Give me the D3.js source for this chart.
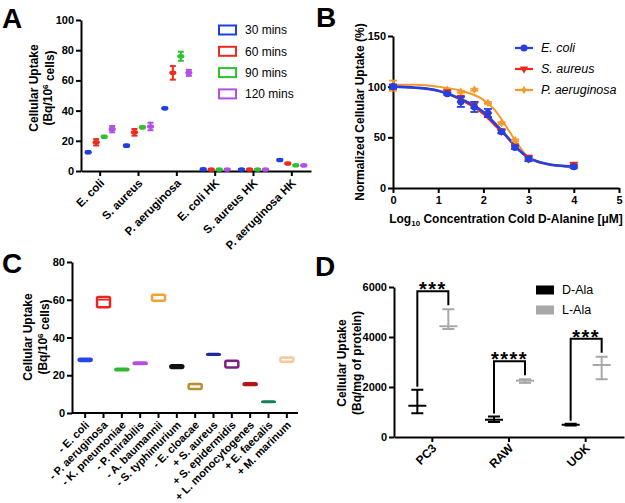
<!DOCTYPE html>
<meta charset="utf-8">
<style>
body { margin: 0; background: #fff; }
</style>
<body>
<svg id="fig"></svg>
<script src="https://d3js.org/d3.v7.min.js"></script>
<script>

var FONT = "Arial, 'Liberation Sans', Helvetica, sans-serif";

// ---- panel A : uptake over time
var uptakeStrains = ["E. coli", "S. aureus", "P. aeruginosa", "E. coli HK", "S. aureus HK", "P. aeruginosa HK"];
var uptakeTimes = ["30 mins", "60 mins", "90 mins", "120 mins"];
var uptake30 = [12.4, 16.8, 41.5, 1.2, 1.0, 7.3];
var uptake60 = [19, 25.6, 65, 1.0, 1.0, 5.0];
var uptake90 = [22.7, 28.9, 76, 1.0, 1.0, 3.8];
var uptake120 = [27.7, 29.5, 65, 1.0, 1.0, 3.7];
var sd30 = [0.6, 0.6, 0.5, 0.3, 0.3, 0.4];
var sd60 = [2.1, 2.2, 4.5, 0.3, 0.3, 0.4];
var sd90 = [0.6, 0.6, 3, 0.3, 0.3, 0.3];
var sd120 = [2.1, 2.5, 2, 0.3, 0.3, 0.3];
var uptakeTicks = [0, 20, 40, 60, 80, 100];

// ---- panel B : competition with cold D-alanine
var logConc = [0, 1.2, 1.5, 1.8, 2.1, 2.4, 2.7, 3, 4];
var ecoliNorm = [100, 93, 85, 80, 74, 55.5, 40, 28.5, 21];
var ecoliErr = [2, 1, 5, 5, 4, 1.5, 1.5, 2, 1.5];
var saureusNorm = [100, 95, 88, 82, 72, 56, 41, 30, 23];
var saureusErr = [2, 1, 3, 3, 2, 2, 2, 2, 2];
var paeruNorm = [101, 97, 95, 97, 84, 64, 47, 28, 22];
var paeruErr = [5, 1, 1, 1, 1, 1, 1, 1, 1];
var fitX = [0, 0.5, 1, 1.5, 2, 2.25, 2.5, 2.75, 3, 3.25, 3.5, 3.75, 4];
var ecoliFit = [100, 99, 96, 88, 75, 64, 52, 39, 30, 25.5, 23, 21.8, 21];
var saureusFit = [100, 99, 96, 87, 73, 62, 51, 39, 30, 25.5, 23, 21.8, 21];
var paeruFit = [102, 101.8, 100, 96, 87, 77, 61, 44, 30, 25, 22.5, 21.8, 21.5];
var compSeries = ["E. coli", "S. aureus", "P. aeruginosa"];

// ---- panel C : strain panel
var strains = ["- E. coli", "- P. aeruginosa", "- K. pneumoniae", "- P. mirabilis", "- A. baumannii",
  "- S. typhimurium", "- E. cloacae", "+ S. aureus", "+ S. epidermidis", "+ L. monocytogenes",
  "+ E. faecalis", "+ M. marinum"];
var strainMin = [27.6, 56, 22.6, 25.9, 59.5, 23.9, 12.7, 30.8, 24.1, 14.8, 5.8, 27.1];
var strainMax = [28.7, 61.5, 23.5, 26.8, 62.7, 25.3, 15.4, 31.3, 27.7, 15.7, 6.1, 29.4];
var strainMean = [28.2, 60, 23, 26.4, 62.5, 24.6, 15.2, 31, 27.4, 15.2, 6, 29.2];
var strainTicks = [0, 20, 40, 60, 80];

// ---- panel D : mammalian cells
var cellLines = ["PC3", "RAW", "UOK"];
var isomers = ["D-Ala", "L-Ala"];
var dAlaMean = [1250, 690, 490];
var dAlaLow = [950, 600, 460];
var dAlaHigh = [1890, 820, 530];
var lAlaMean = [4430, 2255, 2880];
var lAlaLow = [4320, 2165, 2310];
var lAlaHigh = [5110, 2310, 3210];
var sigLabels = ["***", "****", "***"];
var cellTicks = [0, 2000, 4000, 6000];

// colours
var timeColors = ["#1f3fe6", "#ec2a1e", "#2ec22e", "#b44fe6"];
var compColors = ["#2440e4", "#e8291c", "#f59a28"];
var strainColors = ["#2448e6", "#e8261c", "#2eb82e", "#b44ee0", "#f5a030", "#111111", "#b8902e",
  "#1c2a9c", "#80207e", "#b81414", "#15805a", "#f8c89a"];
var isomerColors = ["#000000", "#a8a8a8"];

var width = 625, height = 503;
var svg = d3.select("#fig").attr("width", width).attr("height", height)
    .style("font-family", FONT);
svg.append("rect").attr("width", width).attr("height", height).attr("fill", "#fff");

function styleAxis(g, fs) {
  g.attr("font-family", FONT);
  g.select(".domain").attr("stroke-width", 2);
  g.selectAll(".tick line").attr("stroke-width", 2);
  g.selectAll(".tick text").attr("font-weight", "bold").attr("font-size", fs || 11).attr("fill", "#000");
}

function panelLetter(t, x, y) {
  svg.append("text").attr("x", x).attr("y", y).attr("font-size", 28).attr("font-weight", "bold").text(t);
}

function rotatedLabels(g, scale, labels, y0, fs) {
  g.selectAll("text.xl").data(labels).enter().append("text")
      .attr("class", "xl")
      .attr("transform", function(d) { return "translate(" + (scale(d) + scale.bandwidth() / 2 + 2) + "," + y0 + ")rotate(-45)"; })
      .attr("text-anchor", "end")
      .attr("dy", "0.35em")
      .attr("font-size", fs)
      .attr("font-weight", "bold")
      .text(function(d) { return d; });
}

function yTitle(x1, x2, y) {
  svg.append("text")
      .attr("transform", "translate(" + x1 + "," + y + ")rotate(-90)")
      .attr("text-anchor", "middle").attr("dy", "0.35em")
      .attr("font-size", 12).attr("font-weight", "bold")
      .text("Cellular Uptake");
  var t = svg.append("text")
      .attr("transform", "translate(" + x2 + "," + y + ")rotate(-90)")
      .attr("text-anchor", "middle").attr("dy", "0.35em")
      .attr("font-size", 12).attr("font-weight", "bold");
  t.append("tspan").text("(Bq/10");
  t.append("tspan").attr("font-size", 8).attr("dy", "-0.5em").text("6");
  t.append("tspan").attr("dy", "0.5em").text(" cells)");
}

// ================= PANEL A =================
panelLetter("A", 2, 28);
var xA = d3.scaleBand().domain(uptakeStrains).range([81, 311]);
var yA = d3.scaleLinear().domain([0, 100]).range([171, 20]);
var offA = d3.scalePoint().domain(uptakeTimes).range([-12, 12]);
var gA = svg.append("g");

gA.append("g").attr("transform", "translate(81,0)")
    .call(d3.axisLeft(yA).tickValues(uptakeTicks).tickSize(5).tickSizeOuter(0).tickPadding(2))
    .call(styleAxis);
gA.append("g").attr("transform", "translate(0,171)")
    .call(d3.axisBottom(xA).tickSize(5).tickSizeOuter(0).tickFormat(""))
    .call(styleAxis);
rotatedLabels(gA, xA, uptakeStrains, 181, 11.5);
yTitle(34, 48, 88);

var uptakeMeans = [uptake30, uptake60, uptake90, uptake120];
var uptakeSds = [sd30, sd60, sd90, sd120];
uptakeTimes.forEach(function(tm, i) {
  var c = timeColors[i];
  var pts = uptakeStrains.map(function(s, j) {
    return { x: xA(s) + xA.bandwidth() / 2 + offA(tm), m: uptakeMeans[i][j], sd: uptakeSds[i][j] };
  });
  var g = gA.append("g").attr("stroke", c).attr("stroke-width", 2);
  g.selectAll("line.v").data(pts).enter().append("line")
      .attr("x1", function(d) { return d.x; }).attr("x2", function(d) { return d.x; })
      .attr("y1", function(d) { return yA(d.m - d.sd); }).attr("y2", function(d) { return yA(d.m + d.sd); });
  [-1, 1].forEach(function(sg) {
    g.selectAll("line.c" + sg).data(pts).enter().append("line")
        .attr("x1", function(d) { return d.x - 3; }).attr("x2", function(d) { return d.x + 3; })
        .attr("y1", function(d) { return yA(d.m + sg * d.sd); }).attr("y2", function(d) { return yA(d.m + sg * d.sd); });
  });
  gA.selectAll("ellipse.t" + i).data(pts).enter().append("ellipse")
      .attr("cx", function(d) { return d.x; }).attr("cy", function(d) { return yA(d.m); })
      .attr("rx", 3.6).attr("ry", 2.3).attr("fill", c);
});

var legA = gA.selectAll("g.leg").data(uptakeTimes).enter().append("g")
    .attr("transform", function(d, i) { return "translate(219," + (30 + i * 21.3) + ")"; });
legA.append("rect").attr("x", 0).attr("y", -4.5).attr("width", 17).attr("height", 9)
    .attr("fill", "none").attr("stroke-width", 2)
    .attr("stroke", function(d, i) { return timeColors[i]; });
legA.append("text").attr("x", 26).attr("dy", "0.35em").attr("font-size", 12).text(function(d) { return d; });

// ================= PANEL B =================
panelLetter("B", 316, 27);
var xB = d3.scaleLinear().domain([0, 5]).range([393, 619]);
var yB = d3.scaleLinear().domain([0, 150]).range([188, 36]);
var gB = svg.append("g");
gB.append("g").attr("transform", "translate(393,0)")
    .call(d3.axisLeft(yB).tickValues([0, 50, 100, 150]).tickSize(5).tickSizeOuter(0).tickPadding(2))
    .call(styleAxis);
gB.append("g").attr("transform", "translate(0,188)")
    .call(d3.axisBottom(xB).ticks(5).tickSize(5).tickSizeOuter(0).tickPadding(3).tickFormat(d3.format("d")))
    .call(styleAxis);

svg.append("text")
    .attr("transform", "translate(360,112)rotate(-90)")
    .attr("text-anchor", "middle").attr("dy", "0.35em")
    .attr("font-size", 12).attr("font-weight", "bold")
    .text("Normalized Cellular Uptake (%)");
var xt = svg.append("text").attr("x", 506).attr("y", 223).attr("text-anchor", "middle")
    .attr("font-size", 12).attr("font-weight", "bold");
xt.append("tspan").text("Log");
xt.append("tspan").attr("font-size", 8).attr("dy", 3).text("10");
xt.append("tspan").attr("dy", -3).text(" Concentration Cold D-Alanine [\u03bcM]");

var fits = [ecoliFit, saureusFit, paeruFit];
var norms = [ecoliNorm, saureusNorm, paeruNorm];
var errs = [ecoliErr, saureusErr, paeruErr];
var symB = [d3.symbolCircle, d3.symbolTriangle, d3.symbolDiamond];
var symSize = [40, 30, 22];
var lineB = d3.line().x(function(d) { return xB(d[0]); }).y(function(d) { return yB(d[1]); })
    .curve(d3.curveMonotoneX);

[2, 1, 0].forEach(function(k) {
  gB.append("path")
      .datum(fitX.map(function(x, i) { return [x, fits[k][i]]; }))
      .attr("d", lineB).attr("fill", "none")
      .attr("stroke", compColors[k]).attr("stroke-width", k === 0 ? 2.6 : 2);
});
[2, 1, 0].forEach(function(k) {
  var pts = logConc.map(function(x, i) { return { x: xB(x), m: norms[k][i], e: errs[k][i] }; });
  var g = gB.append("g").attr("stroke", compColors[k]).attr("stroke-width", 1.8);
  g.selectAll("line.v").data(pts).enter().append("line")
      .attr("x1", function(d) { return d.x; }).attr("x2", function(d) { return d.x; })
      .attr("y1", function(d) { return yB(d.m - d.e); }).attr("y2", function(d) { return yB(d.m + d.e); });
  [-1, 1].forEach(function(sg) {
    g.selectAll("line.c" + sg).data(pts).enter().append("line")
        .attr("x1", function(d) { return d.x - 4; }).attr("x2", function(d) { return d.x + 4; })
        .attr("y1", function(d) { return yB(d.m + sg * d.e); }).attr("y2", function(d) { return yB(d.m + sg * d.e); });
  });
  gB.selectAll("path.m" + k).data(pts).enter().append("path")
      .attr("transform", function(d) { return "translate(" + d.x + "," + yB(d.m) + ")" + (k === 1 ? "rotate(180)" : ""); })
      .attr("d", d3.symbol().type(symB[k]).size(symSize[k]))
      .attr("fill", compColors[k]);
});

var legB = gB.selectAll("g.leg").data(compSeries).enter().append("g")
    .attr("transform", function(d, i) { return "translate(515," + (48 + i * 21) + ")"; });
legB.append("line").attr("x1", 0).attr("x2", 18)
    .attr("stroke", function(d, i) { return compColors[i]; }).attr("stroke-width", 2.2);
legB.append("path")
    .attr("transform", function(d, i) { return "translate(9,0)" + (i === 1 ? "rotate(180)" : ""); })
    .attr("d", function(d, i) { return d3.symbol().type(symB[i]).size(symSize[i])(); })
    .attr("fill", function(d, i) { return compColors[i]; });
legB.append("text").attr("x", 26).attr("dy", "0.35em").attr("font-size", 12.5)
    .attr("font-style", "italic").text(function(d) { return d; });

// ================= PANEL C =================
panelLetter("C", 2, 273);
var xC = d3.scaleBand().domain(strains).range([76, 296]);
var yC = d3.scaleLinear().domain([0, 80]).range([413, 262]);
var gC = svg.append("g");
gC.append("g").attr("transform", "translate(72,0)")
    .call(d3.axisLeft(yC).tickValues(strainTicks).tickSize(5).tickSizeOuter(0).tickPadding(2))
    .call(styleAxis);
var axC = gC.append("g").attr("transform", "translate(0,413)")
    .call(d3.axisBottom(xC).tickSize(5).tickSizeOuter(0).tickFormat(""))
    .call(styleAxis);
axC.select(".domain").remove();
axC.append("line").attr("x1", 72).attr("x2", 298).attr("stroke", "#000").attr("stroke-width", 2);
rotatedLabels(gC, xC, strains, 423, 11);
yTitle(28, 43, 337);

var boxW = 13;
strains.forEach(function(s, i) {
  var cx = xC(s) + xC.bandwidth() / 2;
  gC.append("rect")
      .attr("x", cx - boxW / 2).attr("y", yC(strainMax[i]))
      .attr("width", boxW).attr("height", yC(strainMin[i]) - yC(strainMax[i]))
      .attr("rx", 1.5)
      .attr("fill", "#fff").attr("stroke", strainColors[i]).attr("stroke-width", 2.5);
  gC.append("line")
      .attr("x1", cx - boxW / 2).attr("x2", cx + boxW / 2)
      .attr("y1", yC(strainMean[i])).attr("y2", yC(strainMean[i]))
      .attr("stroke", strainColors[i]).attr("stroke-width", 1.6);
});

// ================= PANEL D =================
panelLetter("D", 315, 276);
var xD = d3.scaleBand().domain(cellLines).range([394, 624]);
var yD = d3.scaleLinear().domain([0, 6000]).range([437, 287]);
var offD = d3.scalePoint().domain(isomers).range([-15, 16]);
var gD = svg.append("g");
gD.append("g").attr("transform", "translate(394,0)")
    .call(d3.axisLeft(yD).tickValues(cellTicks).tickSize(5).tickSizeOuter(0).tickPadding(2)
      .tickFormat(d3.format("d")))
    .call(styleAxis);
gD.append("g").attr("transform", "translate(0,437)")
    .call(d3.axisBottom(xD).tickSize(5).tickSizeOuter(0).tickFormat(""))
    .call(styleAxis);
rotatedLabels(gD, xD, cellLines, 446, 12);
svg.append("text")
    .attr("transform", "translate(342,363)rotate(-90)")
    .attr("text-anchor", "middle").attr("dy", "0.35em")
    .attr("font-size", 12).attr("font-weight", "bold").text("Cellular Uptake");
svg.append("text")
    .attr("transform", "translate(357,363)rotate(-90)")
    .attr("text-anchor", "middle").attr("dy", "0.35em")
    .attr("font-size", 12).attr("font-weight", "bold").text("(Bq/mg of protein)");

var isoData = [[dAlaMean, dAlaLow, dAlaHigh], [lAlaMean, lAlaLow, lAlaHigh]];
isomers.forEach(function(iso, k) {
  var g = gD.append("g").attr("stroke", isomerColors[k]).attr("stroke-width", 2);
  cellLines.forEach(function(c, j) {
    var cx = xD(c) + xD.bandwidth() / 2 + offD(iso);
    var m = isoData[k][0][j], lo = isoData[k][1][j], hi = isoData[k][2][j];
    g.append("line").attr("x1", cx).attr("x2", cx).attr("y1", yD(lo)).attr("y2", yD(hi));
    g.append("line").attr("x1", cx - 6).attr("x2", cx + 6).attr("y1", yD(lo)).attr("y2", yD(lo));
    g.append("line").attr("x1", cx - 6).attr("x2", cx + 6).attr("y1", yD(hi)).attr("y2", yD(hi));
    g.append("line").attr("x1", cx - 9).attr("x2", cx + 9).attr("y1", yD(m)).attr("y2", yD(m));
  });
});

// significance brackets
cellLines.forEach(function(c, j) {
  var xl = xD(c) + xD.bandwidth() / 2 + offD("D-Ala");
  var xr = xD(c) + xD.bandwidth() / 2 + offD("L-Ala");
  var top = yD(lAlaHigh[j]) - 18;
  gD.append("path")
      .attr("d", "M" + xl + "," + (yD(dAlaHigh[j]) - 3) + "V" + top + "H" + xr + "V" + (yD(lAlaHigh[j]) - 4))
      .attr("fill", "none").attr("stroke", "#000").attr("stroke-width", 2);
  gD.append("text").attr("x", (xl + xr) / 2).attr("y", top + 5)
      .attr("text-anchor", "middle").attr("font-size", 20).attr("font-weight", "bold")
      .attr("letter-spacing", 1.5)
      .text(sigLabels[j]);
});

var legD = gD.selectAll("g.leg").data(isomers).enter().append("g")
    .attr("transform", function(d, i) { return "translate(536," + (290 + i * 20) + ")"; });
legD.append("rect").attr("y", -4.5).attr("width", 18).attr("height", 9)
    .attr("fill", function(d, i) { return isomerColors[i]; });
legD.append("text").attr("x", 26).attr("dy", "0.35em").attr("font-size", 12.5).text(function(d) { return d; });

</script>
